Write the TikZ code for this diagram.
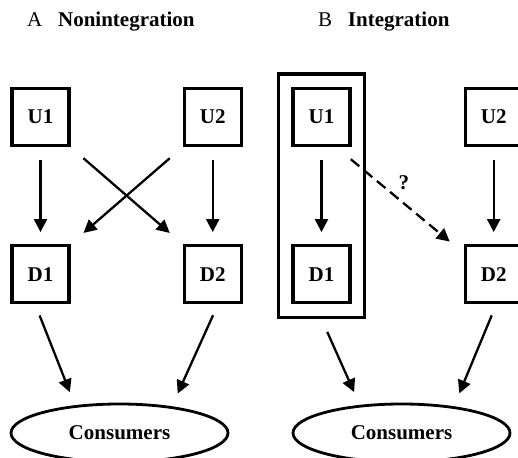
\documentclass[tikz,border=0pt]{standalone}
\usepackage{fontspec}
\setmainfont{Liberation Serif}
\usetikzlibrary{arrows.meta,positioning,fit,shapes.geometric}

\begin{document}
\begin{tikzpicture}[
    x=1pt, y=1pt,
    font=\fontsize{21}{25}\selectfont,
    firm/.style={rectangle, draw, line width=3.2pt, minimum size=57pt, inner sep=0pt, font=\fontsize{21}{25}\selectfont\bfseries},
    market/.style={ellipse, draw, line width=2.8pt, minimum width=217pt, minimum height=58pt, font=\fontsize{21}{25}\selectfont\bfseries},
    arrow/.style={-{Triangle[length=13pt,width=13pt]}, line width=2.3pt},
    title/.style={anchor=base west, inner sep=0pt}
]
\useasboundingbox (0,0) rectangle (518,457);

% Nonintegration
\node[title] (title-a) at (27,430) {A\hspace{0.75em}\textbf{Nonintegration}};
\node[firm] (up1-a) at (40.5,340) {U1};
\node[firm, right=112pt of up1-a] (up2-a) {U2};
\node[firm, below=97pt of up1-a] (down1-a) {D1};
\node[firm, below=97pt of up2-a] (down2-a) {D2};
\node[market] (consumers-a) at (119.5,24) {Consumers};

% Integration
\node[title] (title-b) at (318,430) {B\hspace{0.75em}\textbf{Integration}};
\node[firm] (up1-b) at (321.5,340) {U1};
\node[firm, right=112pt of up1-b] (up2-b) {U2};
\node[firm, below=97pt of up1-b] (down1-b) {D1};
\node[firm, below=97pt of up2-b] (down2-b) {D2};
\node[market] (consumers-b) at (401.5,24) {Consumers};
\node[draw, line width=3.5pt, fit=(up1-b)(down1-b), inner sep=13pt] (merged) {};

% Connections
\draw[arrow, shorten <=13pt, shorten >=12pt] (up1-a) -- (down1-a);
\draw[arrow, shorten <=13pt, shorten >=12pt] (up2-a) -- (down2-a);
\draw[arrow, shorten <=17pt, shorten >=17pt] (up1-a.south east) -- (down2-a.north west);
\draw[arrow, shorten <=17pt, shorten >=17pt] (up2-a.south west) -- (down1-a.north east);
\draw[arrow, shorten <=12pt, shorten >=14pt] (down1-a.260) -- (consumers-a.148);
\draw[arrow, shorten <=12pt, shorten >=14pt] (down2-a.280) -- (consumers-a.27);

\draw[arrow, shorten <=13pt, shorten >=12pt] (up1-b) -- (down1-b);
\draw[arrow, shorten <=13pt, shorten >=12pt] (up2-b) -- (down2-b);
\draw[arrow, dash pattern=on 11pt off 6pt, shorten <=19pt, shorten >=18pt] (up1-b.296) -- node[midway, above=6pt, xshift=4pt, font=\fontsize{21}{25}\selectfont\bfseries] (query) {?} (down2-b.145);
\draw[arrow, shorten <=14pt, shorten >=14pt] (merged.south) -- (consumers-b.146);
\draw[arrow, shorten <=12pt, shorten >=14pt] (down2-b.275) -- (consumers-b.27);

\end{tikzpicture}
\end{document}
